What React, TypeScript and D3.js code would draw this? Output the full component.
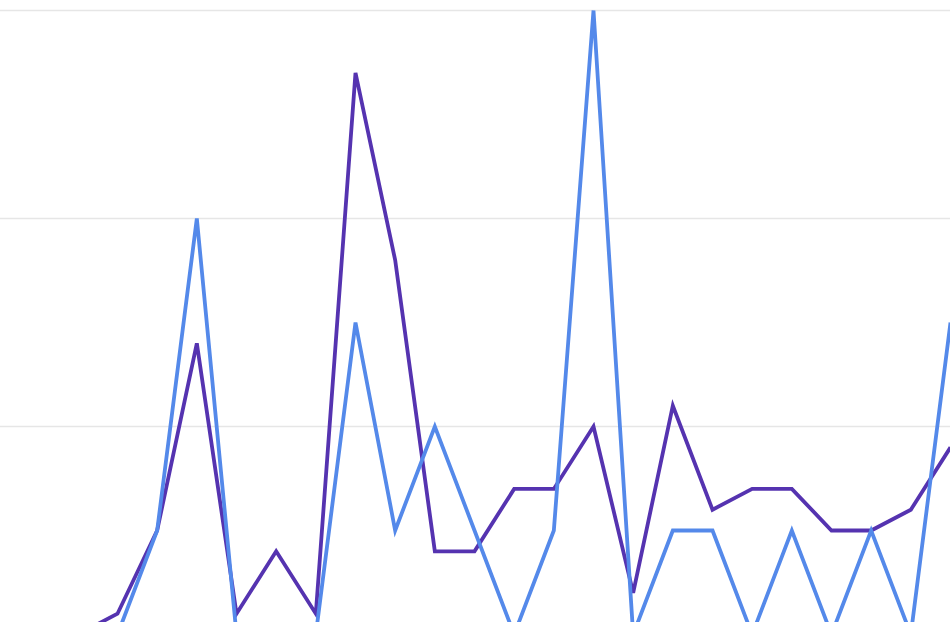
import * as d3 from "d3";

// visible slice of a longer daily chart; first two points sit off the left edge
const days = d3.range(25);
const purpleSeries = [0, 0, 0, 1, 5, 14, 1, 4, 1, 27, 18, 4, 4, 7, 7, 10, 2, 11, 6, 7, 7, 5, 5, 6, 9];
const blueSeries = [0, 0, 0, 0, 5, 20, 0, 0, 0, 15, 5, 10, 5, 0, 5, 30, 0, 5, 5, 0, 5, 0, 5, 0, 15];
const gridValues = [0, 10, 20, 30];

export default function App() {
  const w = 950,
    h = 622;

  const x = d3.scalePoint<number>().domain(days).range([-1.5, 950.5]);
  const y = d3.scaleLinear().domain([0, 30]).range([634.5, 10.5]);

  const line = d3
    .line<number>()
    .x((_, i) => x(i)!)
    .y((d) => y(d));

  return (
    <div style={{ position: "fixed", left: 0, top: 0, width: w, height: h, background: "#fff" }}>
      <svg width={w} height={h} style={{ display: "block" }}>
        {/* gridlines */}
        {gridValues.map((v) => (
          <line key={v} x1={0} x2={w} y1={y(v)} y2={y(v)} stroke="#e6e6e6" strokeWidth={1.5} />
        ))}
        <path d={line(purpleSeries)!} fill="none" stroke="#5533b0" strokeWidth={3.8} strokeLinejoin="miter" />
        <path d={line(blueSeries)!} fill="none" stroke="#5489ea" strokeWidth={3.8} strokeLinejoin="miter" />
      </svg>
    </div>
  );
}
